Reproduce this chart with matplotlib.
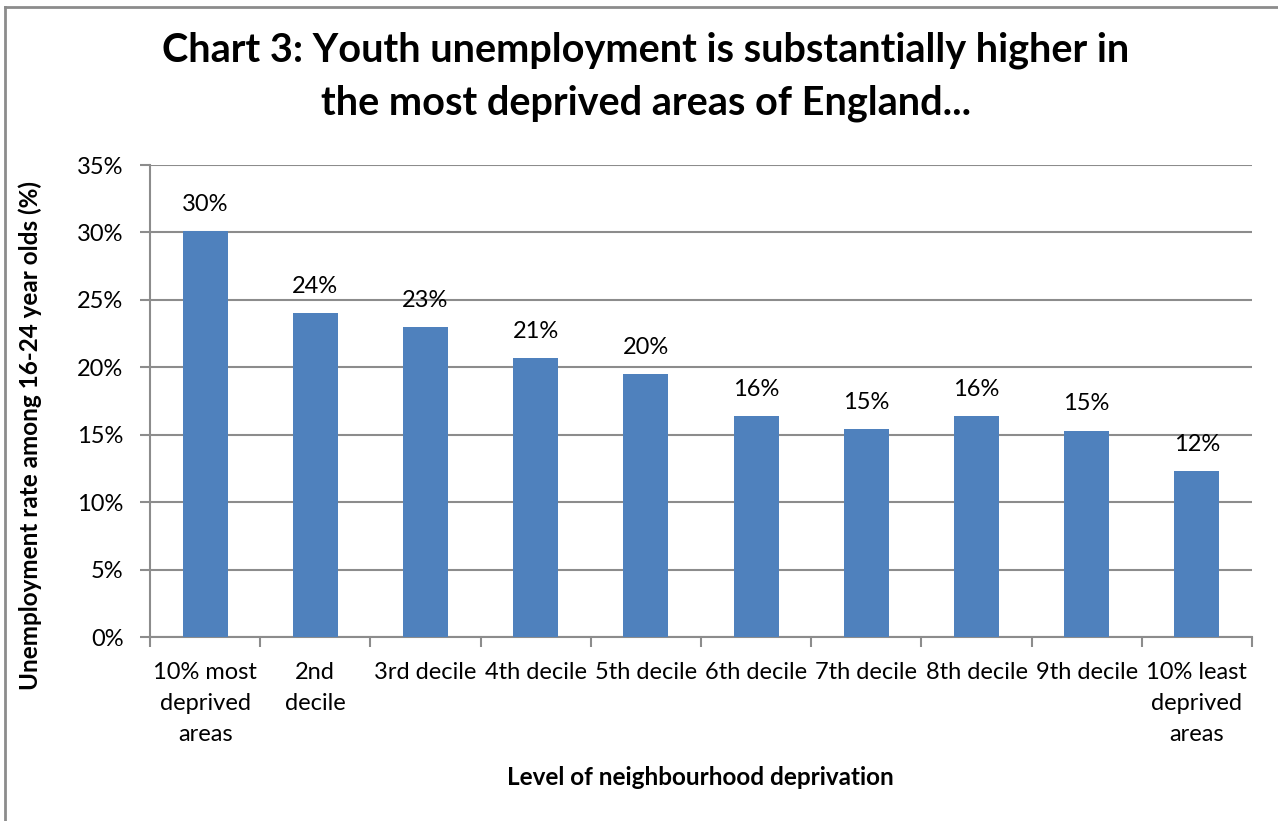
import matplotlib
matplotlib.use('Agg')
import matplotlib.pyplot as plt
import matplotlib.ticker as mticker
from matplotlib.lines import Line2D
import numpy as np

BAR = '#4F81BD'
GRID = '#8C8C8C'
BORDER = '#8C8C8C'

plt.rcParams.update({
    'font.family': ['Lato', 'DejaVu Sans'],
    'font.size': 17,
})

categories = ['10% most\ndeprived\nareas', '2nd\ndecile', '3rd decile', '4th decile',
              '5th decile', '6th decile', '7th decile', '8th decile', '9th decile',
              '10% least\ndeprived\nareas']
rates = [30.1, 24.0, 23.0, 20.7, 19.5, 16.4, 15.4, 16.4, 15.3, 12.3]
labels = ['30%', '24%', '23%', '21%', '20%', '16%', '15%', '16%', '15%', '12%']

W, H = 1278, 821
fig = plt.figure(figsize=(W / 100, H / 100), dpi=100)
ax = fig.add_axes([150 / W, 1 - 637 / H, (1252 - 150) / W, (637 - 165) / H])

x = np.arange(len(categories))
bars = ax.bar(x, rates, width=0.41, color=BAR, zorder=3)

for b, lab in zip(bars, labels):
    ax.text(b.get_x() + b.get_width() / 2, b.get_height() + 1.2, lab,
            ha='center', va='bottom', fontsize=17, color='black')

ax.set_xlim(-0.5, len(categories) - 0.5)
ax.set_ylim(0, 35)
ax.yaxis.set_major_locator(mticker.MultipleLocator(5))
ax.yaxis.set_major_formatter(mticker.FuncFormatter(lambda v, p: f'{v:.0f}%'))
ax.grid(True, axis='y', color=GRID, linewidth=1.5, zorder=0)

ax.set_xticks(np.arange(-0.5, len(categories)), minor=False)
ax.set_xticklabels([])
ax.set_xticks(x, minor=True)
ax.set_xticklabels(categories, minor=True, fontsize=17, linespacing=1.6)
ax.tick_params(axis='x', which='major', length=7, color=GRID, width=1.5, direction='out')
ax.tick_params(axis='x', which='minor', length=0, pad=18)
ax.tick_params(axis='y', length=7, color=GRID, width=1.5, labelsize=17, pad=12)

for s in ['top', 'right']:
    ax.spines[s].set_visible(False)
for s in ['left', 'bottom']:
    ax.spines[s].set_color(GRID)
    ax.spines[s].set_linewidth(1.5)

fig.text(646 / W, 1 - 77 / H,
         'Chart 3: Youth unemployment is substantially higher in\nthe most deprived areas of England...',
         ha='center', va='center', fontsize=28.5, fontweight='bold', linespacing=1.52)
fig.text(30 / W, 1 - 436 / H, 'Unemployment rate among 16-24 year olds (%)',
         rotation=90, ha='center', va='center', fontsize=17.5, fontweight='bold')
fig.text(700 / W, 1 - 777 / H, 'Level of neighbourhood deprivation',
         ha='center', va='center', fontsize=17.5, fontweight='bold')

# chart border (left and top edges visible)
fig.add_artist(Line2D([5 / W, 5 / W], [0, 1 - 7 / H], color=BORDER, linewidth=2))
fig.add_artist(Line2D([5 / W, 1], [1 - 7 / H, 1 - 7 / H], color=BORDER, linewidth=2))

fig.savefig('out.png', dpi=100, facecolor='white')
